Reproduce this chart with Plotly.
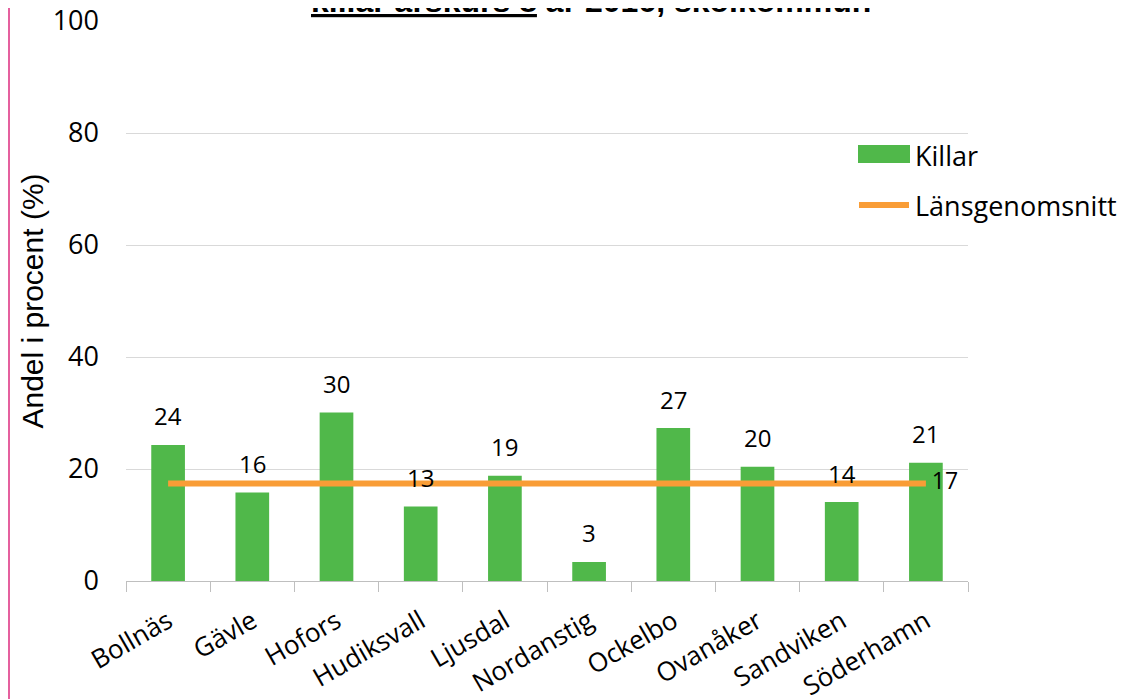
import plotly.graph_objects as go

categories = ["Bollnäs", "Gävle", "Hofors", "Hudiksvall", "Ljusdal",
              "Nordanstig", "Ockelbo", "Ovanåker", "Sandviken", "Söderhamn"]
killar = [24.3, 15.8, 30.1, 13.3, 18.8, 3.4, 27.3, 20.4, 14.1, 21.1]
lansgenomsnitt = 17.4
y_ticks = [0, 20, 40, 60, 80, 100]

W, H = 1127, 699
OFF = 8  # page body margin offset
L, T = 126 - OFF, 21 - OFF
R = W - (968 - OFF)
B = H - (581 - OFF)
pw, ph = W - L - R, H - T - B

def px_x(p):
    return (p - OFF - L) / pw

def px_y(p):
    return (H - B - (p - OFF)) / ph

GREEN = "#50B84A"
ORANGE = "#F99D36"
LABEL_FONT = "Open Sans"

fig = go.Figure()
fig.add_trace(go.Bar(
    x=categories, y=killar, marker=dict(color=GREEN, line=dict(width=0)),
    name="Killar", showlegend=False, hoverinfo="x+y",
))
avg = [lansgenomsnitt] * len(categories)
fig.add_trace(go.Scatter(
    x=categories, y=avg, mode="lines+text", name="Länsgenomsnitt",
    line=dict(color=ORANGE, width=6), showlegend=False,
    text=[""] * (len(categories) - 1) + [f" {lansgenomsnitt:.0f}"],
    textposition="middle right",
    textfont=dict(family=LABEL_FONT, size=23, color="#000000"),
))

annotations = []
for c, v in zip(categories, killar):
    annotations.append(dict(
        x=c, y=v, xref="x", yref="y", text=f"{v:.0f}", showarrow=False,
        yanchor="middle", yshift=29,
        font=dict(family=LABEL_FONT, size=24, color="#000000"),
    ))

# title (clipped at top like the reference)
annotations.append(dict(
    x=px_x(591), y=px_y(21), xref="paper", yref="paper",
    xanchor="center", yanchor="bottom", showarrow=False,
    text='<b><span style="text-decoration:underline">killar årskurs 8</span> år 2016, skolkommun</b>',
    font=dict(family="Liberation Sans, Arial", size=32, color="#000000"),
))

# custom legend
annotations.append(dict(
    x=px_x(913), y=px_y(155), xref="paper", yref="paper", xanchor="left",
    yanchor="middle", showarrow=False, text="Killar",
    font=dict(family=LABEL_FONT, size=27, color="#000000"),
))
annotations.append(dict(
    x=px_x(913), y=px_y(205), xref="paper", yref="paper", xanchor="left",
    yanchor="middle", showarrow=False, text="Länsgenomsnitt",
    font=dict(family=LABEL_FONT, size=27, color="#000000"),
))

shapes = [
    dict(type="rect", xref="paper", yref="paper",
         x0=px_x(858), x1=px_x(910), y0=px_y(163), y1=px_y(145),
         fillcolor=GREEN, line=dict(width=0)),
    dict(type="line", xref="paper", yref="paper",
         x0=px_x(859), x1=px_x(909), y0=px_y(205), y1=px_y(205),
         line=dict(color=ORANGE, width=6)),
    dict(type="line", xref="paper", yref="paper",
         x0=px_x(OFF + 1), x1=px_x(OFF + 1), y0=px_y(H + OFF), y1=px_y(OFF),
         line=dict(color="#E5609E", width=2)),
]

fig.update_layout(
    width=W, height=H,
    margin=dict(l=L, r=R, t=T, b=B, autoexpand=False),
    paper_bgcolor="#FFFFFF", plot_bgcolor="#FFFFFF",
    bargap=0.6,
    showlegend=False,
    annotations=annotations,
    shapes=shapes,
    xaxis=dict(
        type="category", tickangle=-30,
        tickfont=dict(family=LABEL_FONT, size=26, color="#000000"),
        showline=True, linecolor="#BFBFBF", linewidth=1,
        ticks="outside", tickson="boundaries", ticklen=10, tickcolor="#BFBFBF",
        showgrid=False, ticklabelstandoff=14,
    ),
    yaxis=dict(
        range=[0, 100], tickvals=y_ticks,
        tickfont=dict(family=LABEL_FONT, size=27, color="#000000"),
        showgrid=True, gridcolor="#D9D9D9", gridwidth=1,
        zeroline=False, showline=False, ticks="",
        ticklabelstandoff=26, ticklabeloverflow="allow",
        title=dict(text="Andel i procent (%)", standoff=0,
                   font=dict(family="Liberation Sans, Arial", size=30, color="#000000")),
    ),
)

fig.write_html("out.html")
